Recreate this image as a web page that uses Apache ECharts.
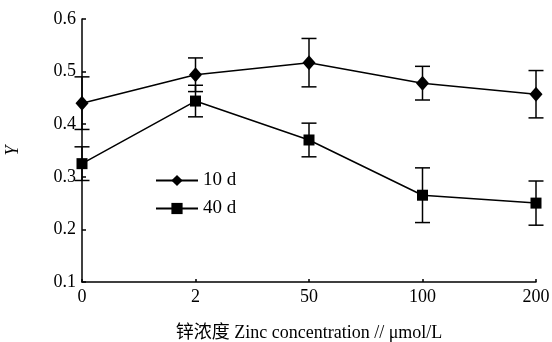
<!DOCTYPE html>
<html><head><meta charset="utf-8">
<script src="https://cdn.jsdelivr.net/npm/echarts@6/dist/echarts.min.js"></script>
<style>html,body{margin:0;padding:0;background:#fff}#c{width:552px;height:342px}</style>
</head><body><div id="c"></div>
<script>
var categories = ['0', '2', '50', '100', '200'];
var tenD = [0.440, 0.494, 0.517, 0.478, 0.457];
var tenDErr = [0.050, 0.032, 0.046, 0.032, 0.045];
var fortyD = [0.325, 0.444, 0.370, 0.265, 0.250];
var fortyDErr = [0.032, 0.030, 0.032, 0.052, 0.042];
var seriesNames = ['10 d', '40 d'];
var yTicks = [0.1, 0.2, 0.3, 0.4, 0.5, 0.6];

var fontLatin = '"Liberation Serif","DejaVu Serif",serif';
var fontAll = '"Liberation Serif","Noto Sans CJK SC",serif';

function errData(vals, errs) {
  return vals.map(function (v, i) { return [i, v - errs[i], v + errs[i]]; });
}
function renderErr(params, api) {
  var x = api.value(0);
  var lo = api.coord([x, api.value(1)]);
  var hi = api.coord([x, api.value(2)]);
  var hw = 7.5;
  var st = { stroke: '#000', lineWidth: 1.5, fill: null };
  return {
    type: 'group',
    children: [
      { type: 'line', shape: { x1: lo[0], y1: lo[1], x2: hi[0], y2: hi[1] }, style: st },
      { type: 'line', shape: { x1: lo[0] - hw, y1: lo[1], x2: lo[0] + hw, y2: lo[1] }, style: st },
      { type: 'line', shape: { x1: hi[0] - hw, y1: hi[1], x2: hi[0] + hw, y2: hi[1] }, style: st }
    ]
  };
}

var chart = echarts.init(document.getElementById('c'), null, { renderer: 'canvas' });
chart.setOption({
  animation: false,
  backgroundColor: '#fff',
  grid: { left: 82, right: 16, top: 19, bottom: 60, containLabel: false, outerBoundsMode: 'none' },
  legend: {
    data: seriesNames,
    orient: 'vertical',
    left: 150, top: 166,
    itemWidth: 42, itemHeight: 14, itemGap: 9,
    textStyle: { fontFamily: fontLatin, fontSize: 19, color: '#000' }
  },
  xAxis: {
    type: 'category',
    data: categories,
    boundaryGap: false,
    name: '锌浓度 Zinc concentration // μmol/L',
    nameLocation: 'middle',
    nameGap: 42,
    nameTextStyle: { fontFamily: fontAll, fontSize: 18, color: '#000' },
    axisLine: { lineStyle: { color: '#000', width: 1.5 } },
    axisTick: { inside: true, length: 3, alignWithLabel: true, lineStyle: { color: '#000', width: 1.5 } },
    axisLabel: { fontFamily: fontLatin, fontSize: 18, color: '#000', margin: 6 },
    splitLine: { show: false }
  },
  yAxis: {
    type: 'value',
    min: yTicks[0], max: yTicks[yTicks.length - 1], interval: 0.1,
    name: 'Y',
    nameLocation: 'middle',
    nameGap: 60,
    nameTextStyle: { fontFamily: fontLatin, fontSize: 18, fontStyle: 'italic', color: '#000' },
    axisLine: { show: true, lineStyle: { color: '#000', width: 1.5 } },
    axisTick: { show: true, inside: true, length: 4, lineStyle: { color: '#000', width: 1.5 } },
    axisLabel: { fontFamily: fontLatin, fontSize: 18, color: '#000', margin: 6,
      formatter: function (v) { return v.toFixed(1); } },
    splitLine: { show: false }
  },
  series: [
    { type: 'custom', name: 'e10', renderItem: renderErr, data: errData(tenD, tenDErr), z: 1, silent: true },
    { type: 'custom', name: 'e40', renderItem: renderErr, data: errData(fortyD, fortyDErr), z: 1, silent: true },
    { type: 'line', name: seriesNames[0], data: tenD, symbol: 'diamond', symbolSize: [13, 15],
      itemStyle: { color: '#000' }, lineStyle: { color: '#000', width: 1.5 }, z: 3 },
    { type: 'line', name: seriesNames[1], data: fortyD, symbol: 'rect', symbolSize: 11,
      itemStyle: { color: '#000' }, lineStyle: { color: '#000', width: 1.5 }, z: 3 }
  ]
});
</script></body></html>
